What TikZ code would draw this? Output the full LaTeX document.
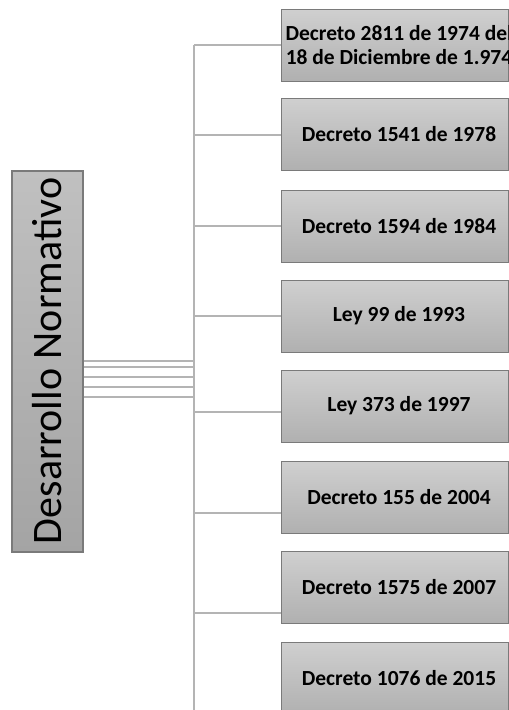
\documentclass[tikz,border=0pt]{standalone}
\usepackage{fontspec}
\setmainfont{Carlito}
\definecolor{linec}{HTML}{B4B4B4}
\definecolor{edgec}{HTML}{7A7A7A}
\definecolor{boxtop}{HTML}{CFCFCF}
\definecolor{boxbot}{HTML}{B0B0B0}
\definecolor{ltop}{HTML}{C0C0C0}
\definecolor{lbot}{HTML}{A4A4A4}
\begin{document}
\begin{tikzpicture}[x=1pt,y=1pt,
  conn/.style={draw=linec,line width=2.4pt},
  itembox/.style={draw=edgec,line width=1.2pt,top color=boxtop,bottom color=boxbot,
    minimum width=227pt,minimum height=72pt,inner sep=0pt,anchor=north west},
  itemtext/.style={font=\fontsize{21.5}{24}\selectfont\bfseries,align=center,inner sep=0pt},
  mainbox/.style={draw=edgec,line width=1.2pt,top color=ltop,bottom color=lbot,
    minimum width=71pt,minimum height=381pt,inner sep=0pt}]
\useasboundingbox (0,0) rectangle (509,-710);
\begin{scope}
\clip (0,0) rectangle (509,-710);
% main box
\node[mainbox] (L) at (47.5,-361.5) {};
\node[rotate=90,font=\fontsize{42}{50}\selectfont,inner sep=0pt] (Lt) at (47.5,-361) {Desarrollo Normativo};
% trunk
\coordinate (tt) at (194,-45);
\coordinate (tb) at (194,-712);
\foreach \i/\y in {1/361,2/367,3/377,4/387,5/397} \coordinate (j\i) at (194,-\y);
% boxes
\foreach \i/\t in {1/9,2/98,3/190,4/280,5/370,6/461,7/551,8/642}
  \node[itembox] (b\i) at (281,-\t) {};
% connectors
\draw[conn] (tt) -- (tb);
\foreach \i in {1,...,5} \draw[conn] (L.east |- j\i) -- (j\i);
\foreach \i/\y in {1/45,2/135,3/226,4/316,5/412,6/513,7/613} {
  \coordinate (k\i) at (194,-\y);
  \draw[conn] (k\i) -- (b\i.west |- k\i);
}
% redraw boxes over connector ends
\foreach \i/\t in {1/9,2/98,3/190,4/280,5/370,6/461,7/551,8/642}
  \node[itembox] (c\i) at (281,-\t) {};
% texts
\node[itemtext] (t1) at (399,-45) {Decreto 2811 de 1974 del\\18 de Diciembre de 1.974};
\node[itemtext] (t2) at (399,-134) {Decreto 1541 de 1978};
\node[itemtext] (t3) at (399,-226) {Decreto 1594 de 1984};
\node[itemtext] (t4) at (399,-316) {Ley 99 de 1993};
\node[itemtext] (t5) at (399,-406) {Ley 373 de 1997};
\node[itemtext] (t6) at (399,-497) {Decreto 155 de 2004};
\node[itemtext] (t7) at (399,-587) {Decreto 1575 de 2007};
\node[itemtext] (t8) at (399,-678) {Decreto 1076 de 2015};
\end{scope}
\end{tikzpicture}
\end{document}
